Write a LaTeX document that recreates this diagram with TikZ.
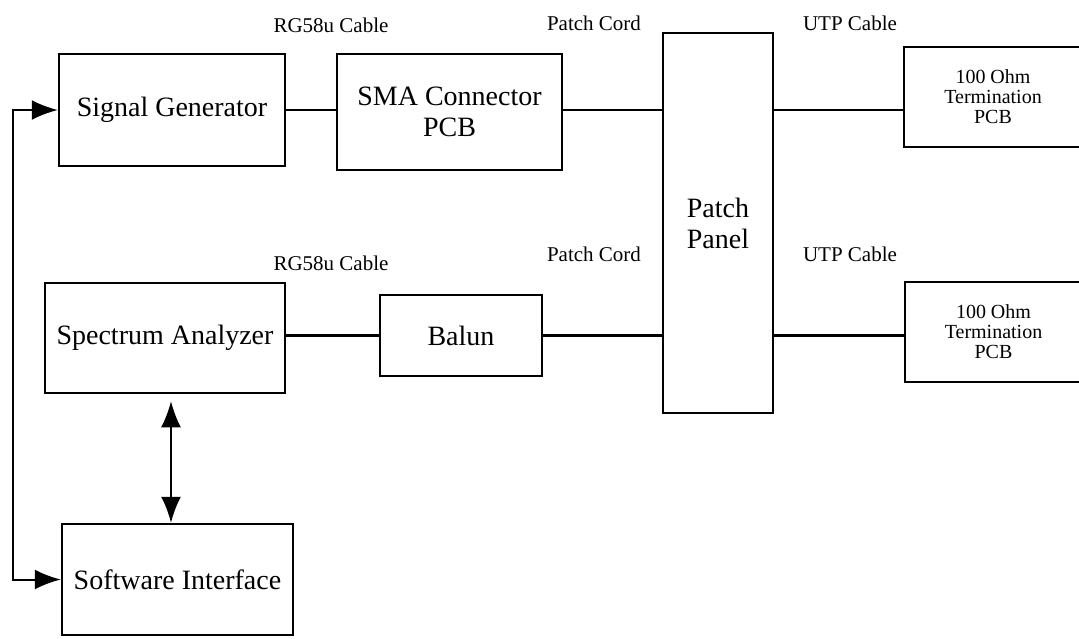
\documentclass[tikz,border=0pt]{standalone}
\usepackage{fontspec}
\setmainfont{Liberation Serif}
\usetikzlibrary{arrows.meta, positioning}

\begin{document}
\begin{tikzpicture}[
    x=1pt, y=-1pt,
    box/.style={draw, line width=2.5pt, inner sep=0pt, align=center, font=\fontsize{28}{31}\selectfont},
    smallbox/.style={box, font=\fontsize{20}{20}\selectfont},
    lbl/.style={inner sep=0pt, font=\fontsize{21}{24}\selectfont},
    wire/.style={line width=2.5pt},
    dbl/.style={line width=2pt, {Latex[length=26pt, width=20pt]}-{Latex[length=26pt, width=20pt]}},
]
    \useasboundingbox (0,0) rectangle (1079,638);

    % top chain
    \node[box, minimum width=226pt, minimum height=112pt] (siggen) at (172,110) {Signal Generator};
    \node[box, minimum width=225pt, minimum height=116pt] (sma) at (449.5,112) {SMA Connector\\PCB};
    \node[box, minimum width=110pt, minimum height=380pt] (panel) at (718,223) {Patch\\Panel};
    \node[smallbox, minimum width=178pt, minimum height=100pt] (termA) at (993,97) {100 Ohm\\Termination\\PCB};

    % bottom chain
    \node[box, minimum width=240pt, minimum height=110pt] (spec) at (165,338) {Spectrum Analyzer};
    \node[box, minimum width=162pt, minimum height=81pt] (balun) at (461,335.5) {Balun};
    \node[smallbox, minimum width=177pt, minimum height=100pt] (termB) at (993.5,332) {100 Ohm\\Termination\\PCB};
    \node[box, minimum width=231pt, minimum height=111pt] (soft) at (177.5,579.5) {Software Interface};

    % cable labels
    \node[lbl] (rgA) at (331,25) {RG58u Cable};
    \node[lbl] (cordA) at (594,23) {Patch Cord};
    \node[lbl] (utpA) at (850,23) {UTP Cable};
    \node[lbl] (rgB) at (331,263) {RG58u Cable};
    \node[lbl] (cordB) at (594,254) {Patch Cord};
    \node[lbl] (utpB) at (850,254) {UTP Cable};

    \draw[wire] (siggen.east) -- (siggen.east -| sma.west);
    \draw[wire] (sma.east |- siggen.east) -- (siggen.east -| panel.west);
    \draw[wire] (panel.east |- siggen.east) -- (siggen.east -| termA.west);

    \draw[wire] (spec.east |- balun.west) -- (balun.west);
    \draw[wire] (balun.east) -- (balun.east -| panel.west);
    \draw[wire] (panel.east |- balun.east) -- (balun.east -| termB.west);

    % control lines
    \coordinate (bus) at (13,350);
    \draw[dbl] (siggen.west) -| (bus) |- (soft.west);
    \draw[dbl] ([xshift=6pt, yshift=-7pt]spec.south) -- ([xshift=-6.5pt]soft.north);
\end{tikzpicture}
\end{document}
